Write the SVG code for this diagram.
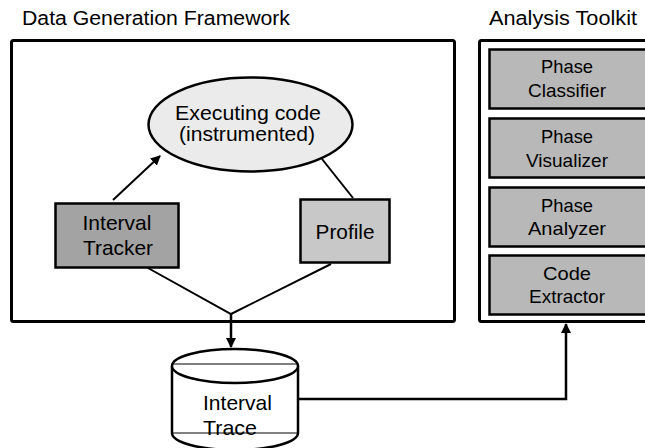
<svg xmlns="http://www.w3.org/2000/svg" width="645" height="448" viewBox="0 0 645 448">
  <defs>
    <marker id="arrow" viewBox="0 0 10 10" refX="9" refY="5" markerWidth="5" markerHeight="5" markerUnits="strokeWidth" orient="auto">
      <path d="M0,0 L10,5 L0,10 z" fill="#000"/>
    </marker>
    <marker id="arrowBig" viewBox="0 0 10 10" refX="9" refY="5" markerWidth="4" markerHeight="4" markerUnits="strokeWidth" orient="auto">
      <path d="M0,0 L10,5 L0,10 z" fill="#000"/>
    </marker>
  </defs>
  <style>
    text { font-family: "Liberation Sans", Arial, Helvetica, sans-serif; fill: #000; }
    .title { font-size: 20px; }
    .lbl { font-size: 21px; text-anchor: middle; }
    .tk { font-size: 19px; text-anchor: middle; }
    .frame { fill: #fff; stroke: #000; stroke-width: 3; }
    .tool { fill: #b8b8b8; stroke: #000; stroke-width: 2.5; }
    .conn { fill: none; stroke: #000; stroke-width: 2; }
    .thick { fill: none; stroke: #000; stroke-width: 2.5; }
  </style>

  <!-- section titles -->
  <text class="title" x="22" y="25" textLength="268" lengthAdjust="spacingAndGlyphs">Data Generation Framework</text>
  <text class="title" x="489" y="25" textLength="148" lengthAdjust="spacingAndGlyphs">Analysis Toolkit</text>

  <!-- framework container -->
  <g id="framework">
    <rect class="frame" x="11.5" y="40.5" width="443" height="281" rx="2"/>
  </g>

  <!-- toolkit container -->
  <g id="toolkit">
    <rect class="frame" x="479.5" y="40.5" width="190" height="281" rx="2"/>
  </g>

  <g id="executing-code">
    <ellipse cx="250.5" cy="124.5" rx="102" ry="47" fill="#ebebeb" stroke="#000" stroke-width="2.5"/>
    <text class="lbl" x="248" y="120" textLength="146" lengthAdjust="spacingAndGlyphs">Executing code</text>
    <text class="lbl" x="247" y="141" textLength="136" lengthAdjust="spacingAndGlyphs">(instrumented)</text>
  </g>

  <g id="interval-tracker">
    <rect x="55.5" y="203.5" width="123" height="64" fill="#a3a3a3" stroke="#000" stroke-width="2.5"/>
    <text class="lbl" x="117" y="230" textLength="69" lengthAdjust="spacingAndGlyphs">Interval</text>
    <text class="lbl" x="118" y="255" textLength="70" lengthAdjust="spacingAndGlyphs">Tracker</text>
  </g>

  <g id="profile">
    <rect x="300.5" y="199.5" width="89" height="63" fill="#c8c8c8" stroke="#000" stroke-width="2.5"/>
    <text class="lbl" x="345" y="239" textLength="59" lengthAdjust="spacingAndGlyphs">Profile</text>
  </g>

  <g id="phase-classifier">
    <rect class="tool" x="489.5" y="49.5" width="170" height="59"/>
    <text class="tk" x="567" y="73" textLength="52" lengthAdjust="spacingAndGlyphs">Phase</text>
    <text class="tk" x="567" y="97" textLength="78" lengthAdjust="spacingAndGlyphs">Classifier</text>
  </g>

  <g id="phase-visualizer">
    <rect class="tool" x="489.5" y="118.5" width="170" height="59"/>
    <text class="tk" x="567" y="143" textLength="52" lengthAdjust="spacingAndGlyphs">Phase</text>
    <text class="tk" x="567" y="167" textLength="82" lengthAdjust="spacingAndGlyphs">Visualizer</text>
  </g>

  <g id="phase-analyzer">
    <rect class="tool" x="489.5" y="187.5" width="170" height="59"/>
    <text class="tk" x="567" y="212" textLength="52" lengthAdjust="spacingAndGlyphs">Phase</text>
    <text class="tk" x="567" y="235" textLength="78" lengthAdjust="spacingAndGlyphs">Analyzer</text>
  </g>

  <g id="code-extractor">
    <rect class="tool" x="489.5" y="255.5" width="170" height="59"/>
    <text class="tk" x="567" y="280" textLength="48" lengthAdjust="spacingAndGlyphs">Code</text>
    <text class="tk" x="567" y="303" textLength="76" lengthAdjust="spacingAndGlyphs">Extractor</text>
  </g>

  <!-- data store cylinder -->
  <g id="interval-trace">
    <path d="M172,366 L172,433 A63,17 0 0 0 298,433 L298,366" fill="#fff" stroke="#000" stroke-width="2.5"/>
    <ellipse cx="235" cy="366" rx="63" ry="17" fill="#fff" stroke="#000" stroke-width="2.5"/>
    <line x1="172" y1="364" x2="298" y2="364" stroke="#000" stroke-width="1"/>
    <line x1="172" y1="433" x2="298" y2="433" stroke="#000" stroke-width="1"/>
    <text x="203" y="410" font-size="21" textLength="69" lengthAdjust="spacingAndGlyphs">Interval</text>
    <text x="203" y="435" font-size="21" textLength="54" lengthAdjust="spacingAndGlyphs">Trace</text>
  </g>

  <!-- connectors -->
  <g id="connectors">
    <line class="conn" x1="113" y1="200" x2="160" y2="156" marker-end="url(#arrow)"/>
    <line class="conn" x1="322" y1="159" x2="353" y2="198"/>
    <polyline class="conn" points="148,268 231,314 331,264"/>
    <line class="thick" x1="231" y1="314" x2="231" y2="347" marker-end="url(#arrowBig)"/>
    <polyline class="thick" points="298,399 566,399 566,324" marker-end="url(#arrowBig)"/>
  </g>
</svg>
